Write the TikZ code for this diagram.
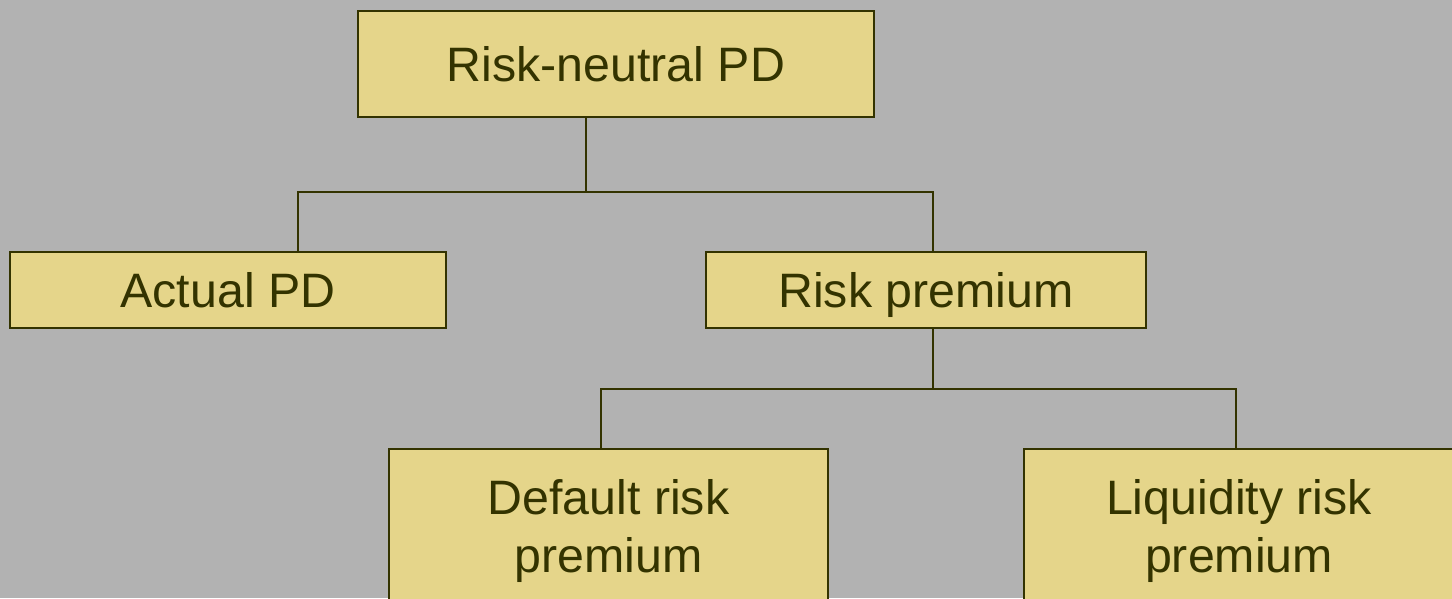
\documentclass[tikz,border=0pt]{standalone}
\usepackage{fontspec}
\setmainfont{Liberation Sans}
\definecolor{bggray}{RGB}{178,178,178}
\definecolor{boxfill}{RGB}{229,213,138}
\definecolor{olive}{RGB}{51,51,0}
\tikzset{
  pdbox/.style={draw=olive,fill=boxfill,line width=1.1pt,text=olive,
    inner sep=0pt,align=center,font=\fontsize{27.5}{33}\selectfont},
  oneline/.style={text height=19.5pt,text depth=0pt},
  link/.style={draw=olive,line width=1.1pt}
}

\begin{document}
\begin{tikzpicture}[x=0.02cm,y=-0.02cm]

    % Size of one pixel of the sheet
    \def\px{0.02cm}

    % -- Background and frame --
    \clip (0,0) rectangle (1452,598);
    \fill[bggray] (0,0) rectangle (1452,598);

    % -- Boxes of the tree --
    \node[pdbox,oneline,minimum width={516*\px},minimum height={106*\px}]
      (neutral) at (616,64) {Risk-neutral PD};
    \node[pdbox,oneline,minimum width={436*\px},minimum height={76*\px}]
      (actual) at (228,290) {Actual PD};
    \node[pdbox,oneline,minimum width={440*\px},minimum height={76*\px}]
      (premium) at (926,290) {Risk premium};
    \node[pdbox,minimum width={439*\px},minimum height={164*\px}]
      (default) at (608.5,531) {Default risk\\premium};
    \node[pdbox,minimum width={430*\px},minimum height={164*\px}]
      (liquidity) at (1239,531) {Liquidity risk\\premium};

    % -- Junction points of the connectors --
    \coordinate (upbus)  at (586,192);
    \coordinate (upleft) at (298,192);
    \coordinate (upright) at (933,192);
    \coordinate (lowbus)  at (933,389);
    \coordinate (lowleft) at (601,389);
    \coordinate (lowright) at (1236,389);

    % -- Upper level --
    \draw[link] (upbus |- neutral.south) -- (upbus);
    \draw[link] (upleft |- actual.north) -- (upleft) -- (upright) -- (upright |- premium.north);

    % -- Lower level --
    \draw[link] (lowbus |- premium.south) -- (lowbus);
    \draw[link] (lowleft |- default.north) -- (lowleft) -- (lowright) -- (lowright |- liquidity.north);

\end{tikzpicture}
\end{document}
